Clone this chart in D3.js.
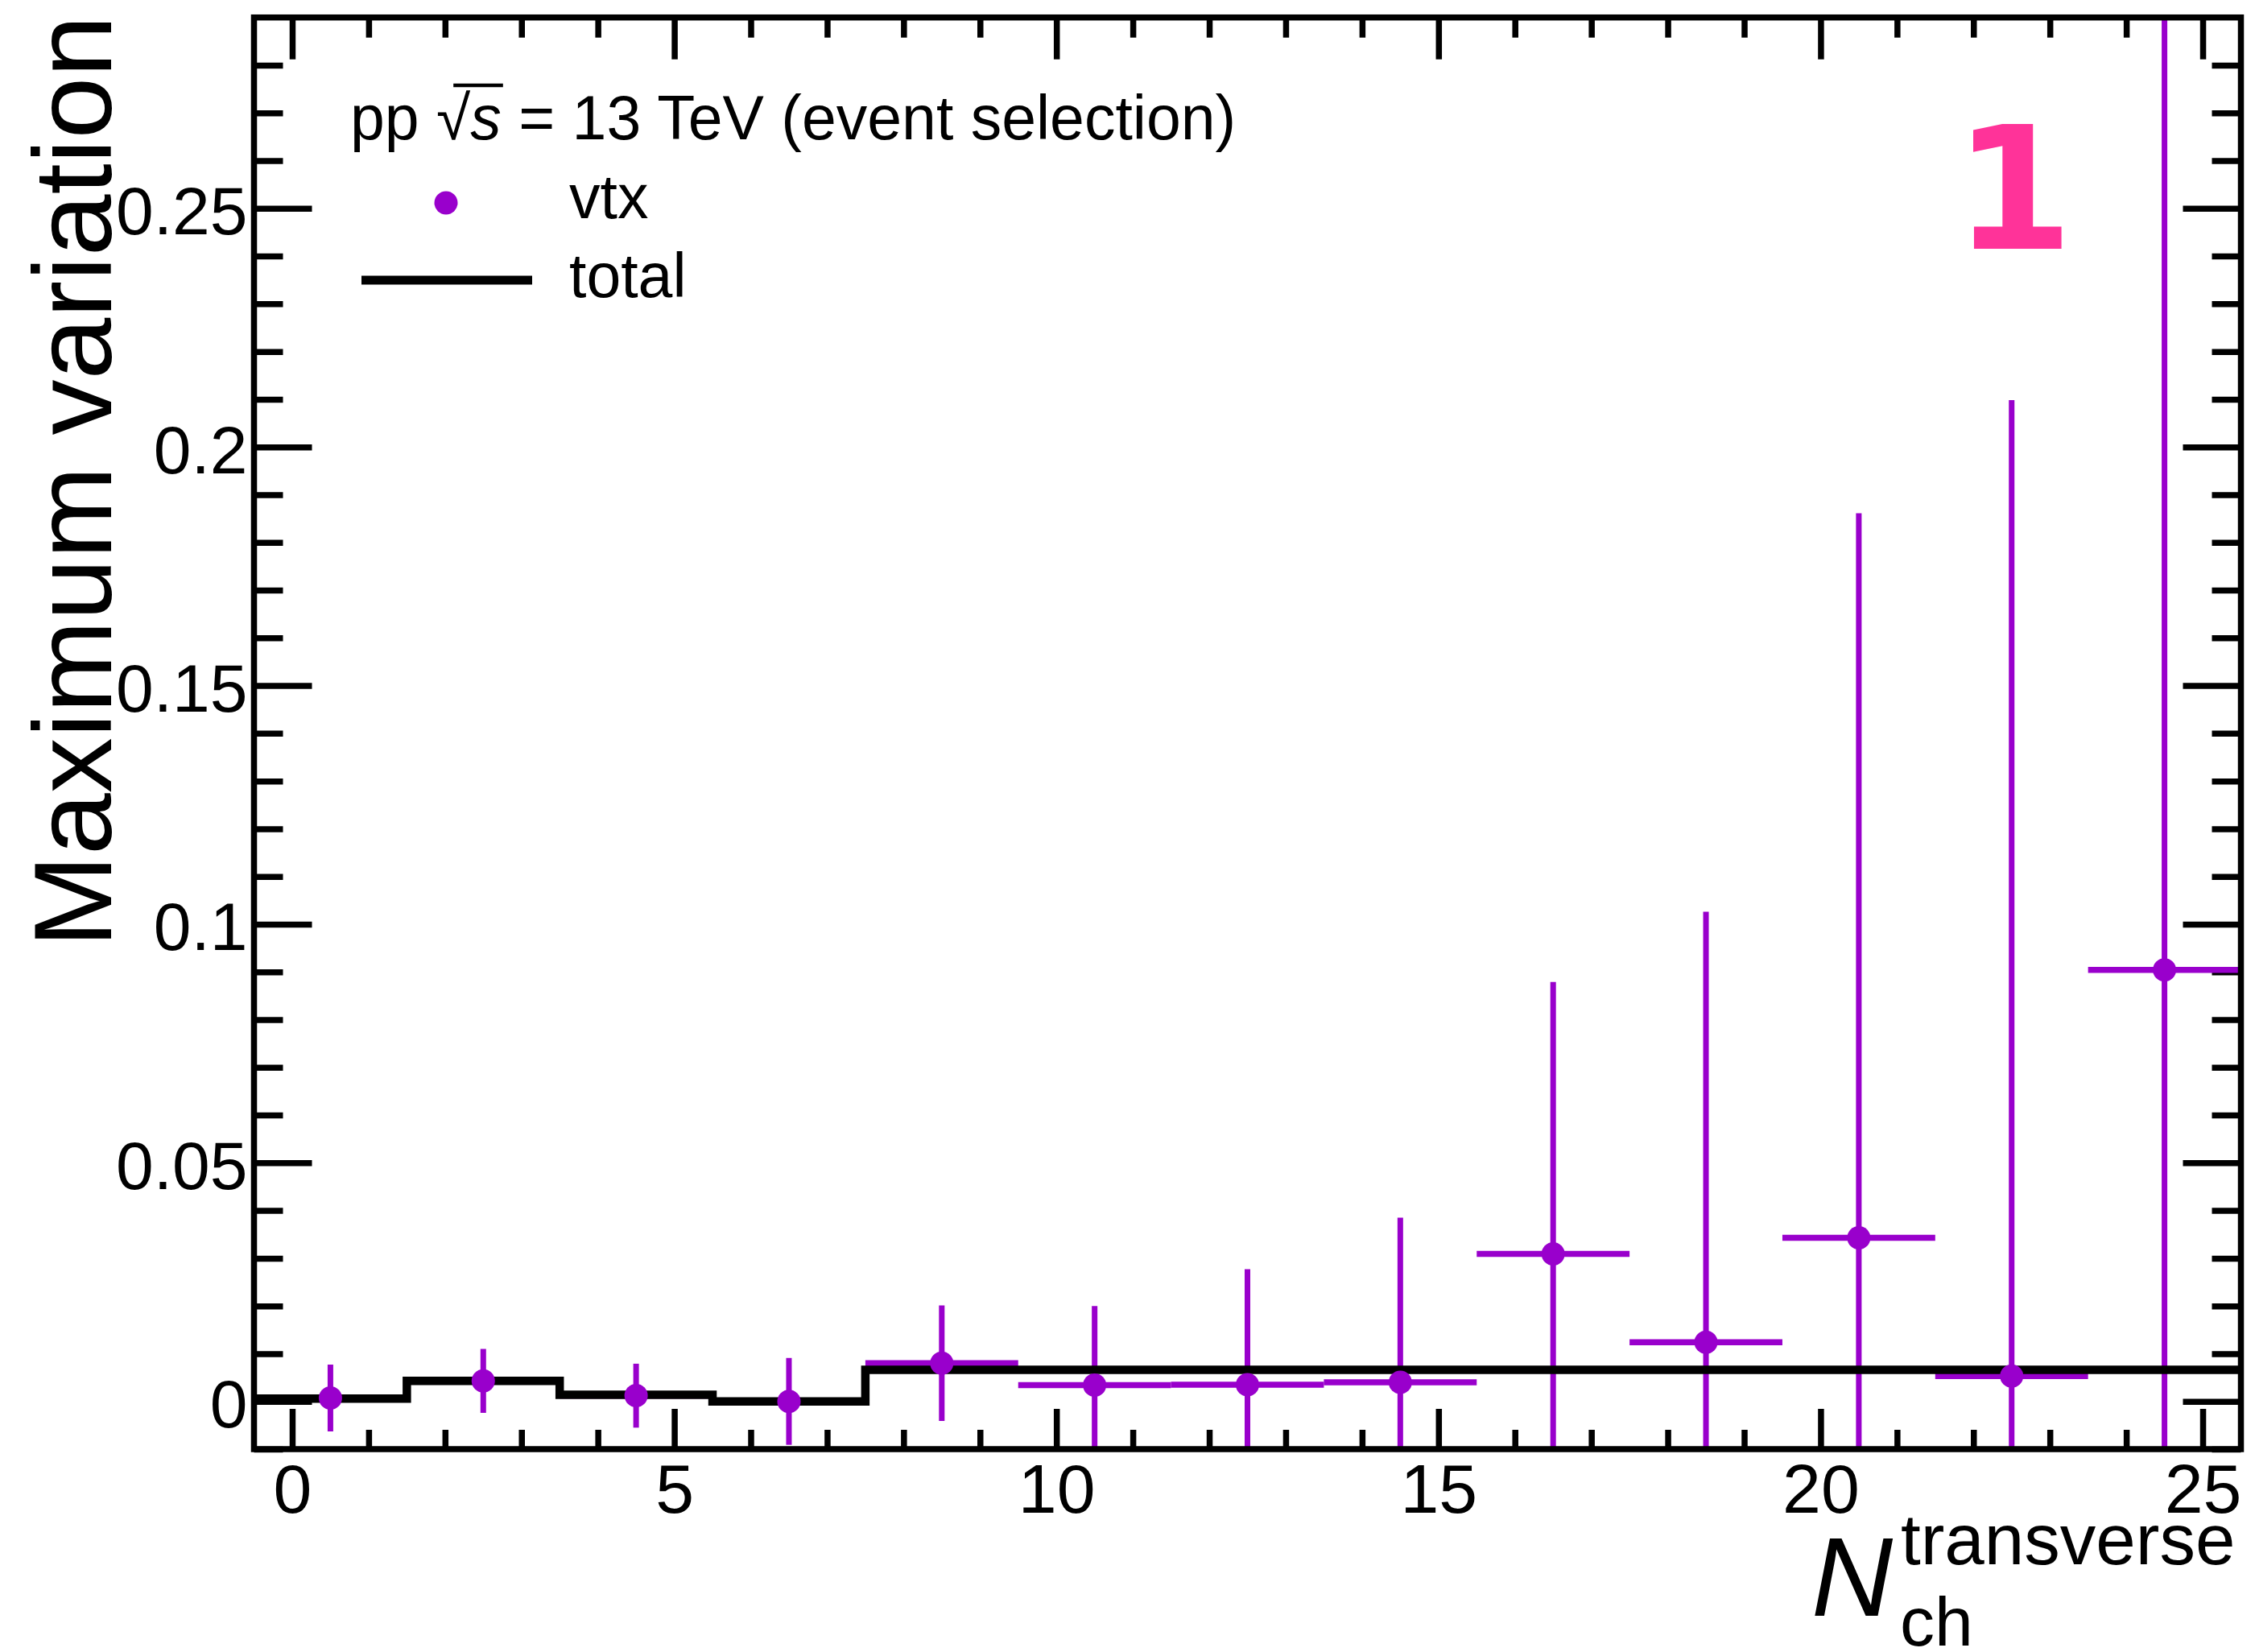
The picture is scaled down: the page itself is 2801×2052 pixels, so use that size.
<!DOCTYPE html>
<html>
<head>
<meta charset="utf-8">
<script src="https://cdn.jsdelivr.net/npm/d3@7"></script>
<style>
  html, body { margin: 0; padding: 0; background: #fff; }
  svg text { font-family: "Liberation Sans", Arial, Helvetica, sans-serif; }
</style>
</head>
<body>
<script>
// bin centres (width 2) and values
const binCenters = [0.5, 2.5, 4.5, 6.5, 8.5, 10.5, 12.5, 14.5, 16.5, 18.5, 20.5, 22.5, 24.5]
const binHalfWidth = 1
const vtxValues = [0.0007, 0.0043, 0.0012, 0.0000, 0.0080, 0.0034, 0.0035, 0.0040, 0.0309, 0.0124, 0.0343, 0.0053, 0.0904]
const vtxErrors = [0.0070, 0.0067, 0.0067, 0.0091, 0.0121, 0.0166, 0.0242, 0.0345, 0.0570, 0.0902, 0.1518, 0.2045, 0.2500]
const totalValues = [0.0006, 0.0043, 0.0014, 0.0000, 0.0066, 0.0066, 0.0066, 0.0066, 0.0066, 0.0066, 0.0066, 0.0066, 0.0066]

const xMajorTicks = [0, 5, 10, 15, 20, 25]
const xMinorTicks = d3.range(0, 26, 1).filter(v => v % 5 !== 0)
const yMajorTicks = [0, 0.05, 0.1, 0.15, 0.2, 0.25]
const yMinorTicks = d3.range(-1, 29, 1).map(v => v / 100).filter(v => Math.round(v * 100) % 5 !== 0)
const yTickLabels = ["0", "0.05", "0.1", "0.15", "0.2", "0.25"]

const purple = "#9900cc"
const pink = "#ff3399"

const width = 2801
const height = 2052
const frame = { left: 315.5, right: 2783.5, top: 21.7, bottom: 1800 }

const svg = d3.select("body")
    .append("svg")
    .attr("xmlns", "http://www.w3.org/2000/svg")
    .attr("width", width)
    .attr("height", height)

const x = d3.scaleLinear().domain([-0.5, 25.5]).range([frame.left, frame.right])
const y = d3.scaleLinear().domain([-0.01, 0.29]).range([frame.bottom, frame.top])

svg.append("defs").append("clipPath")
    .attr("id", "plotclip")
    .append("rect")
    .attr("x", frame.left)
    .attr("y", frame.top)
    .attr("width", frame.right - frame.left)
    .attr("height", frame.bottom - frame.top)

// axes: ticks drawn inward on all four sides
function styleAxis(g) {
    g.select(".domain").remove()
    g.selectAll(".tick line").attr("stroke", "#000").attr("stroke-width", 7.5)
    g.selectAll(".tick text").attr("fill", "#000")
}

svg.append("g")
    .attr("transform", `translate(0,${frame.bottom})`)
    .call(d3.axisBottom(x).tickValues(xMajorTicks).tickSize(-50).tickPadding(18).tickFormat(d3.format("d")))
    .call(styleAxis)
    .call(g => g.selectAll(".tick text").attr("font-size", 86).attr("font-family", null))

svg.append("g")
    .attr("transform", `translate(0,${frame.bottom})`)
    .call(d3.axisBottom(x).tickValues(xMinorTicks).tickSize(-24).tickFormat(""))
    .call(styleAxis)

svg.append("g")
    .attr("transform", `translate(0,${frame.top})`)
    .call(d3.axisTop(x).tickValues(xMajorTicks).tickSize(-52).tickFormat(""))
    .call(styleAxis)

svg.append("g")
    .attr("transform", `translate(0,${frame.top})`)
    .call(d3.axisTop(x).tickValues(xMinorTicks).tickSize(-25).tickFormat(""))
    .call(styleAxis)

svg.append("g")
    .attr("transform", `translate(${frame.left},0)`)
    .call(d3.axisLeft(y).tickValues(yMajorTicks).tickSize(-72).tickPadding(8)
        .tickFormat((d, i) => yTickLabels[i]))
    .call(styleAxis)
    .call(g => g.selectAll(".tick text").attr("font-size", 84).attr("font-family", null).attr("dy", "0.38em"))

svg.append("g")
    .attr("transform", `translate(${frame.left},0)`)
    .call(d3.axisLeft(y).tickValues(yMinorTicks).tickSize(-36).tickFormat(""))
    .call(styleAxis)

svg.append("g")
    .attr("transform", `translate(${frame.right},0)`)
    .call(d3.axisRight(y).tickValues(yMajorTicks).tickSize(-72).tickFormat(""))
    .call(styleAxis)

svg.append("g")
    .attr("transform", `translate(${frame.right},0)`)
    .call(d3.axisRight(y).tickValues(yMinorTicks).tickSize(-36).tickFormat(""))
    .call(styleAxis)

// data
const vtx = binCenters.map((c, i) => ({ c: c, v: vtxValues[i], e: vtxErrors[i] }))
const plot = svg.append("g").attr("clip-path", "url(#plotclip)")

plot.append("g")
    .selectAll("line.ex")
    .data(vtx)
    .enter().append("line")
    .attr("x1", d => x(d.c - binHalfWidth))
    .attr("x2", d => x(d.c + binHalfWidth))
    .attr("y1", d => y(d.v))
    .attr("y2", d => y(d.v))
    .style("stroke", purple)
    .style("stroke-width", 7.5)

plot.append("g")
    .selectAll("line.ey")
    .data(vtx)
    .enter().append("line")
    .attr("x1", d => x(d.c))
    .attr("x2", d => x(d.c))
    .attr("y1", d => y(d.v - d.e))
    .attr("y2", d => y(d.v + d.e))
    .style("stroke", purple)
    .style("stroke-width", 7)

// "total" step histogram
const steps = []
binCenters.forEach((c, i) => {
    steps.push([c - binHalfWidth, totalValues[i]])
    steps.push([c + binHalfWidth, totalValues[i]])
})
plot.append("path")
    .datum(steps)
    .attr("d", d3.line().x(d => x(d[0])).y(d => y(d[1])))
    .style("fill", "none")
    .style("stroke", "#000")
    .style("stroke-width", 10.5)
    .style("stroke-linejoin", "miter")

plot.append("g")
    .selectAll("circle")
    .data(vtx)
    .enter().append("circle")
    .attr("cx", d => x(d.c))
    .attr("cy", d => y(d.v))
    .attr("r", 14.5)
    .style("fill", purple)

// frame
svg.append("rect")
    .attr("x", frame.left)
    .attr("y", frame.top)
    .attr("width", frame.right - frame.left)
    .attr("height", frame.bottom - frame.top)
    .style("fill", "none")
    .style("stroke", "#000")
    .style("stroke-width", 7.5)

// axis titles
svg.append("text")
    .attr("transform", "translate(138,19) rotate(-90)")
    .attr("text-anchor", "end")
    .attr("font-size", 138)
    .text("Maximum variation")

const xt = svg.append("g")
xt.append("text").attr("x", 2250).attr("y", 2007).attr("font-size", 140)
    .attr("font-style", "italic").text("N")
xt.append("text").attr("x", 2361).attr("y", 1943).attr("font-size", 89).text("transverse")
xt.append("text").attr("x", 2360).attr("y", 2044).attr("font-size", 86).text("ch")

// legend
const header = svg.append("text")
    .attr("x", 435).attr("y", 173).attr("font-size", 77)
header.append("tspan").text("pp ")
header.append("tspan").attr("class", "rad").text("\u221a")
header.append("tspan").attr("font-style", "italic").text("s")
header.append("tspan").text(" = 13 TeV (event selection)")

const hNode = header.node()
const sStart = hNode.getStartPositionOfChar(4)
const sEnd = hNode.getEndPositionOfChar(4)
const radStart = hNode.getStartPositionOfChar(3)
svg.append("line")
    .attr("x1", radStart.x + 0.5 * (sStart.x - radStart.x))
    .attr("x2", sEnd.x + 2)
    .attr("y1", 106).attr("y2", 106)
    .style("stroke", "#000").style("stroke-width", 4.5)

const legendRows = [
    { label: "vtx", y: 271 },
    { label: "total", y: 369 }
]
svg.append("g").selectAll("text")
    .data(legendRows)
    .enter().append("text")
    .attr("x", 707).attr("y", d => d.y).attr("font-size", 77)
    .text(d => d.label)

svg.append("circle").attr("cx", 554).attr("cy", 252).attr("r", 14.5).style("fill", purple)
svg.append("line").attr("x1", 449).attr("x2", 661).attr("y1", 348).attr("y2", 348)
    .style("stroke", "#000").style("stroke-width", 11)

// pad label
svg.append("text")
    .attr("x", 2501).attr("y", 309)
    .attr("text-anchor", "middle")
    .attr("font-size", 213)
    .attr("font-weight", "bold")
    .style("font-family", "'DejaVu Sans', sans-serif")
    .style("fill", pink)
    .text("1")
</script>
</body>
</html>
